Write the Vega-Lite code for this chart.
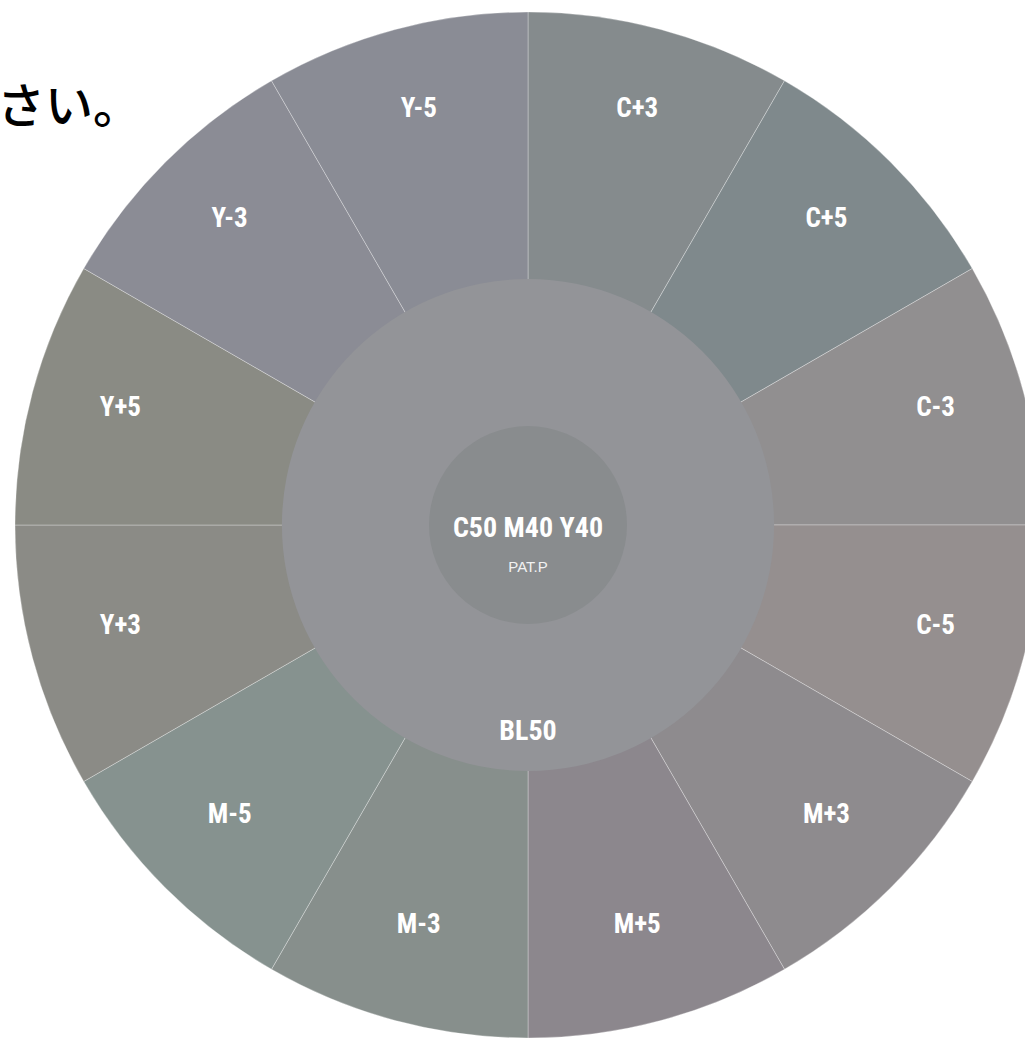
{
  "$schema": "https://vega.github.io/schema/vega-lite/v6.json",
  "autosize": {"type": "none"},
  "padding": {"left": 31, "top": 12, "right": 0, "bottom": 0},
  "width": 994,
  "height": 1026,
  "background": "#ffffff",
  "view": {"stroke": null},
  "title": {
    "text": "ください。",
    "anchor": "start",
    "frame": "group",
    "align": "right",
    "baseline": "alphabetic",
    "offset": 0,
    "dx": 110,
    "dy": 160,
    "font": "Noto Sans CJK JP",
    "fontSize": 48,
    "fontWeight": 500,
    "color": "#000000"
  },
  "datasets": {
    "segments": [
      {"name": "C+3", "i": 1, "v": 1},
      {"name": "C+5", "i": 2, "v": 1},
      {"name": "C-3", "i": 3, "v": 1},
      {"name": "C-5", "i": 4, "v": 1},
      {"name": "M+3", "i": 5, "v": 1},
      {"name": "M+5", "i": 6, "v": 1},
      {"name": "M-3", "i": 7, "v": 1},
      {"name": "M-5", "i": 8, "v": 1},
      {"name": "Y+3", "i": 9, "v": 1},
      {"name": "Y+5", "i": 10, "v": 1},
      {"name": "Y-3", "i": 11, "v": 1},
      {"name": "Y-5", "i": 12, "v": 1}
    ],
    "ring": [{"name": "BL50", "v": 1}],
    "inner": [{"name": "C50 M40 Y40", "v": 1}],
    "sub": [{"name": "PAT.P"}]
  },
  "layer": [
    {
      "data": {"name": "segments"},
      "mark": {"type": "arc", "radius": 513, "stroke": "#ffffff", "strokeWidth": 0.75, "strokeOpacity": 0.4},
      "encoding": {
        "theta": {"field": "v", "type": "quantitative", "stack": true},
        "order": {"field": "i", "type": "quantitative"},
        "color": {
          "field": "name",
          "type": "nominal",
          "legend": null,
          "scale": {
            "domain": ["C+3", "C+5", "C-3", "C-5", "M+3", "M+5", "M-3", "M-5", "Y+3", "Y+5", "Y-3", "Y-5"],
            "range": ["#858b8d", "#7f898c", "#918f90", "#958f8f", "#8e8b8e", "#8c878d", "#878f8c", "#86928f", "#8b8b86", "#8a8b84", "#8b8c95", "#8a8c95"]
          }
        }
      }
    },
    {
      "data": {"name": "segments"},
      "mark": {"type": "text", "radius": 422, "dy": -8, "font": "Roboto Condensed, DejaVu Sans Condensed, Roboto, sans-serif", "fontWeight": "bold", "fontSize": 27, "fill": "#ffffff", "align": "center", "baseline": "middle"},
      "encoding": {
        "theta": {"field": "v", "type": "quantitative", "stack": true},
        "order": {"field": "i", "type": "quantitative"},
        "text": {"field": "name", "type": "nominal"}
      }
    },
    {
      "data": {"name": "ring"},
      "mark": {"type": "arc", "radius": 246, "fill": "#939498"},
      "encoding": {
        "theta": {"field": "v", "type": "quantitative", "stack": true}
      }
    },
    {
      "data": {"name": "inner"},
      "mark": {"type": "arc", "radius": 99, "fill": "#898c8e"},
      "encoding": {
        "theta": {"field": "v", "type": "quantitative", "stack": true}
      }
    },
    {
      "data": {"name": "ring"},
      "mark": {"type": "text", "dy": 207, "font": "Roboto Condensed, DejaVu Sans Condensed, Roboto, sans-serif", "fontWeight": "bold", "fontSize": 28, "fill": "#ffffff", "align": "center", "baseline": "middle"},
      "encoding": {"text": {"field": "name", "type": "nominal"}}
    },
    {
      "data": {"name": "inner"},
      "mark": {"type": "text", "dy": 4, "font": "Roboto Condensed, DejaVu Sans Condensed, Roboto, sans-serif", "fontWeight": "bold", "fontSize": 28, "fill": "#ffffff", "align": "center", "baseline": "middle"},
      "encoding": {"text": {"field": "name", "type": "nominal"}}
    },
    {
      "data": {"name": "sub"},
      "mark": {"type": "text", "dy": 42, "font": "Liberation Sans", "fontWeight": "normal", "fontSize": 15, "fill": "#f2f2f2", "align": "center", "baseline": "middle"},
      "encoding": {"text": {"field": "name", "type": "nominal"}}
    }
  ],
  "resolve": {"scale": {"theta": "independent"}}
}
